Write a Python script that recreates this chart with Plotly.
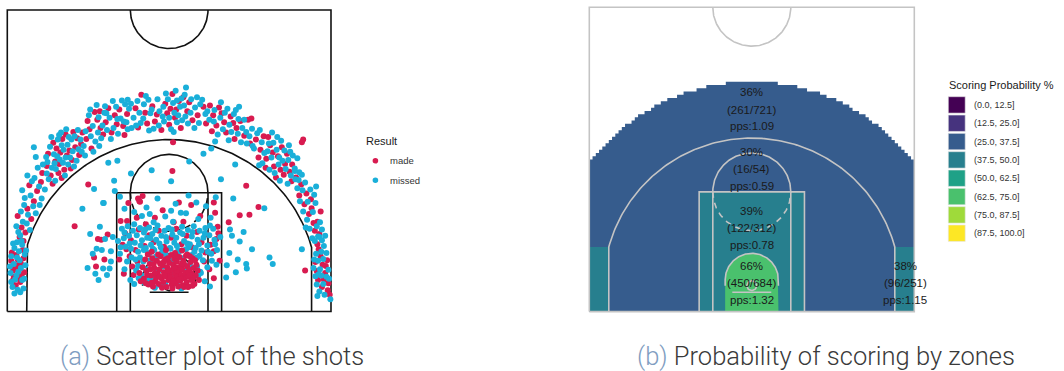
import numpy as np
import plotly.graph_objects as go

# ---------------- shot locations (feet: x across the court, y up from the baseline) ----------------
made_above_break = [
    (-22.8, 13.1), (-21.9, 16.0), (-20.4, 18.8), (-23.1, 11.6), (-21.3, 14.4), (-19.8, 20.2), (-22.2, 12.3),
    (-20.9, 17.2), (-23.4, 14.9), (-19.6, 21.6), (-21.6, 19.7), (-22.5, 11.0),
    (-18.3, 21.2), (-17.6, 23.4), (-16.8, 24.8), (-15.4, 25.1), (-14.2, 27.0), (-17.9, 26.3), (-16.2, 22.1),
    (-15.0, 23.6), (-13.6, 26.1), (-18.7, 24.6), (-17.1, 21.6), (-16.5, 26.9), (-14.8, 28.0), (-18.0, 19.9),
    (-15.8, 24.3), (-13.9, 24.4), (-17.4, 25.4), (-16.0, 27.6), (-14.5, 25.6), (-18.9, 22.7), (-15.2, 22.3),
    (-17.0, 23.0), (-13.4, 27.9), (-16.6, 20.8),
    (-11.5, 31.1), (-10.7, 31.2), (-12.3, 28.4), (-9.8, 29.5), (-8.4, 30.6), (-7.1, 28.9), (-12.8, 26.9),
    (-10.2, 27.6), (-6.5, 30.8), (-11.1, 29.9), (-8.9, 27.9), (-7.7, 31.5), (-12.0, 25.4), (-9.4, 31.7),
    (-6.9, 27.5), (-10.6, 28.6), (-8.1, 29.2), (-12.6, 29.7),
    (0.5, 33.9), (-4.3, 33.8), (0.2, 31.6), (-0.6, 32.4), (0.9, 30.2), (1.5, 32.8), (-1.9, 30.7), (-3.4, 29.3),
    (2.8, 31.2), (3.6, 29.8), (-5.2, 31.7), (-2.6, 32.0), (0.0, 29.1), (1.8, 28.6), (-1.2, 28.3), (4.4, 30.6),
    (5.3, 31.9), (-4.8, 28.7), (2.2, 33.4), (-0.3, 30.9), (1.1, 31.5), (-2.2, 29.6), (3.1, 32.6), (5.7, 29.3),
    (-3.7, 31.0),
    (6.8, 30.6), (8.1, 30.9), (9.5, 30.4), (12.7, 30.1), (12.2, 29.9), (7.3, 29.0), (10.4, 28.6), (11.6, 27.4),
    (8.8, 27.9), (6.3, 32.1), (9.9, 29.4), (12.5, 26.2), (7.7, 31.8), (11.0, 29.7), (10.1, 26.9), (6.6, 28.1),
    (8.5, 29.5),
    (13.4, 26.8), (14.1, 25.2), (15.6, 25.9), (16.8, 24.2), (17.9, 23.0), (18.6, 21.8), (15.0, 23.8),
    (16.2, 22.6), (17.4, 25.6), (18.2, 24.6), (14.6, 27.3), (19.0, 22.9), (20.5, 26.4), (20.7, 26.8),
    (16.5, 20.9), (17.7, 21.3), (13.8, 24.0), (15.3, 27.2), (18.9, 20.3), (14.9, 22.4), (16.0, 24.8), (17.2, 22.1),
    (21.2, 18.4), (22.0, 16.1), (22.9, 14.0), (20.4, 19.8), (21.6, 15.2), (22.5, 12.6), (19.6, 20.9),
    (21.9, 17.5), (23.2, 12.1), (20.9, 16.7), (22.3, 13.8), (20.1, 18.1), (23.4, 15.6),
]
missed_above_break = [
    (-23.3, 12.4), (-22.6, 14.0), (-21.8, 15.1), (-22.9, 15.6), (-21.0, 16.4), (-20.6, 15.3), (-22.3, 17.7),
    (-21.4, 18.1), (-20.1, 19.5), (-19.7, 17.6), (-23.6, 13.3), (-22.0, 13.7), (-20.8, 20.8), (-21.9, 21.2),
    (-20.3, 22.4), (-19.2, 19.0), (-22.7, 18.9), (-23.0, 11.9), (-21.5, 12.7), (-20.0, 16.6), (-22.4, 16.6),
    (-21.2, 20.3), (-19.5, 22.9), (-20.6, 24.1), (-20.9, 25.6),
    (-18.6, 20.6), (-18.1, 22.4), (-17.5, 22.2), (-17.8, 24.5), (-16.9, 23.7), (-16.3, 25.2), (-15.7, 26.0),
    (-15.1, 26.8), (-14.6, 27.3), (-14.0, 25.3), (-13.5, 24.9), (-16.4, 23.2), (-15.6, 22.9), (-17.2, 26.8),
    (-18.4, 25.7), (-18.8, 23.3), (-17.6, 20.4), (-16.1, 21.2), (-15.3, 24.0), (-14.3, 23.5), (-13.7, 26.8),
    (-16.7, 27.9), (-15.9, 28.4), (-18.2, 27.2), (-17.3, 24.2), (-16.0, 24.0), (-14.9, 25.0), (-14.1, 28.3),
    (-13.2, 25.8), (-18.9, 21.5), (-19.0, 24.1), (-17.0, 27.5), (-15.5, 27.2), (-16.6, 25.9), (-14.7, 22.6),
    (-17.7, 23.1),
    (-12.1, 27.3), (-11.4, 26.5), (-11.8, 28.9), (-10.9, 30.3), (-10.3, 29.0), (-9.6, 28.3), (-9.2, 30.2),
    (-8.6, 28.6), (-8.2, 31.9), (-7.5, 30.1), (-7.0, 29.6), (-6.4, 28.4), (-6.8, 32.3), (-9.9, 32.0),
    (-11.2, 32.2), (-12.4, 30.6), (-10.5, 27.0), (-9.0, 26.9), (-7.9, 27.7), (-12.9, 28.1), (-11.7, 24.9),
    (-10.8, 25.8), (-8.7, 32.8), (-6.2, 31.6), (-13.0, 24.3), (-7.3, 32.9), (-9.7, 30.9), (-11.0, 27.9),
    (-8.0, 30.0), (-6.6, 29.5), (-12.2, 31.5), (-10.0, 31.0),
    (2.6, 34.9), (1.9, 33.2), (-6.4, 33.0), (2.4, 33.8), (1.2, 32.9), (0.6, 32.5), (-0.9, 31.9), (-1.5, 31.2),
    (-2.9, 30.9), (-3.9, 32.3), (-4.6, 31.0), (-5.5, 30.2), (-5.9, 32.4), (-4.9, 32.8), (-3.2, 33.0),
    (-1.8, 33.1), (-0.2, 33.1), (0.8, 31.0), (1.7, 31.9), (2.5, 30.4), (3.3, 31.0), (4.0, 31.8), (4.8, 32.3),
    (5.6, 30.8), (4.6, 29.4), (3.9, 28.6), (2.9, 29.3), (2.0, 29.8), (1.2, 29.5), (0.3, 28.4), (-0.8, 29.6),
    (-1.6, 29.0), (-2.4, 28.5), (-3.1, 28.2), (-4.0, 30.1), (-4.4, 29.4), (-5.1, 29.0), (-5.8, 28.6),
    (-2.7, 31.5), (-1.0, 30.4), (0.0, 30.2), (0.7, 28.0), (1.4, 30.6), (2.3, 32.1), (3.4, 33.1), (4.3, 33.4),
    (5.1, 33.0), (-3.6, 33.6), (-0.5, 34.0), (1.0, 34.4),
    (9.0, 31.6), (5.9, 31.2), (7.0, 31.4), (7.9, 30.2), (8.6, 31.0), (9.3, 29.1), (10.0, 30.8), (10.7, 30.0),
    (11.3, 28.6), (11.9, 28.0), (12.4, 27.3), (12.9, 25.8), (10.6, 27.7), (9.6, 28.0), (8.3, 28.4), (7.5, 27.6),
    (6.9, 29.6), (6.2, 29.9), (11.6, 29.9), (10.3, 31.4), (8.0, 32.6), (12.0, 26.2), (9.2, 26.7), (7.1, 26.5),
    (12.8, 28.5), (11.1, 26.4), (10.8, 31.9),
    (13.1, 25.4), (13.6, 27.8), (14.3, 26.4), (14.7, 24.7), (15.2, 25.0), (15.8, 24.0), (16.1, 26.3),
    (16.6, 25.2), (17.0, 24.0), (17.5, 23.5), (18.0, 22.2), (18.4, 23.6), (18.8, 21.2), (19.1, 24.3),
    (19.4, 22.3), (17.8, 25.1), (16.9, 22.9), (16.3, 21.6), (15.5, 22.1), (14.4, 23.1), (13.9, 22.8),
    (15.9, 27.9), (17.3, 26.6), (18.5, 25.9), (19.5, 20.6), (18.3, 19.9), (17.1, 20.4), (14.0, 28.3),
    (16.7, 27.2), (19.8, 23.9), (20.1, 21.7), (15.4, 26.2), (18.7, 24.9),
    (19.4, 21.9), (20.0, 20.5), (20.6, 18.9), (21.0, 20.1), (21.4, 17.1), (21.8, 19.0), (22.2, 15.5),
    (22.6, 16.9), (22.8, 13.3), (23.0, 11.7), (21.3, 14.3), (20.7, 15.6), (20.2, 17.2), (19.8, 19.2),
    (22.4, 18.2), (23.3, 13.9), (21.7, 12.9), (22.1, 11.4), (23.6, 12.8), (20.5, 21.3), (21.1, 13.1), (22.7, 19.5),
]
made_corner = [
    (-23.6, 8.8), (-22.9, 7.5), (-24.1, 6.4), (-23.3, 5.2), (-22.6, 9.6), (-24.4, 7.9), (-23.0, 4.6),
    (-23.8, 6.9), (-22.4, 6.1), (-24.0, 5.4), (-23.4, 8.1), (-22.8, 5.6), (-24.3, 9.2), (-23.1, 6.7),
    (-23.7, 4.1), (-22.5, 8.3), (-24.2, 4.8), (-23.5, 7.2),
    (23.4, 8.6), (24.2, 7.1), (22.8, 6.3), (23.9, 5.0), (24.6, 4.4), (23.1, 9.7), (24.4, 8.0), (22.6, 7.7),
    (23.6, 3.8), (24.8, 2.6), (23.0, 4.9), (24.1, 6.0), (22.9, 10.5), (23.7, 7.3), (24.5, 3.3),
]
missed_corner = [
    (-23.9, 9.9), (-23.2, 9.4), (-22.7, 10.4), (-24.4, 8.6), (-22.3, 8.9), (-23.5, 8.4), (-24.0, 7.4),
    (-22.9, 6.8), (-23.3, 6.2), (-24.5, 6.0), (-22.2, 7.2), (-23.6, 5.6), (-22.7, 4.9), (-24.2, 3.8),
    (-23.4, 3.4), (-23.9, 2.8), (-23.0, 3.0), (-22.5, 3.6), (-24.4, 4.6), (-23.1, 8.0), (-22.4, 5.1),
    (-23.8, 5.0), (-24.1, 10.6), (-22.8, 11.0), (-23.5, 10.8), (-22.1, 9.5), (-24.6, 7.0),
    (22.5, 11.0), (23.2, 11.6), (23.9, 10.2), (22.7, 9.0), (23.5, 9.3), (24.3, 9.1), (22.4, 8.1), (23.0, 7.9),
    (23.8, 8.2), (24.6, 6.5), (23.3, 6.6), (22.6, 5.5), (23.5, 5.6), (24.3, 5.4), (22.8, 4.2), (23.8, 4.3),
    (23.2, 3.1), (24.0, 2.6), (22.9, 2.4), (24.7, 5.1), (23.6, 11.1), (24.1, 11.8), (22.3, 6.8), (24.9, 1.9),
    (23.1, 5.8),
]
made_mid = [
    (-12.5, 19.8), (-10.5, 11.2), (-11.0, 11.3), (-11.6, 8.4), (-11.3, 7.0), (0.5, 21.9), (0.6, 26.4),
    (11.9, 19.6), (10.9, 15.0), (12.4, 15.1), (13.8, 16.3), (21.0, 6.4), (-9.5, 12.0), (-10.0, 8.1),
    (9.2, 13.9), (-14.6, 13.3),
]
missed_mid = [
    (-11.6, 19.1), (-9.4, 23.2), (-8.0, 23.5), (-8.5, 20.4), (-8.4, 18.8), (-10.1, 16.9), (-10.7, 13.2),
    (-9.9, 11.3), (-11.2, 9.8), (-10.2, 6.7), (-9.2, 6.7), (-9.6, 5.7), (-11.8, 9.0), (-2.7, 22.0),
    (0.3, 20.3), (3.1, 23.4), (8.0, 20.6), (10.2, 22.9), (6.5, 25.4), (14.7, 16.1), (9.4, 12.8), (9.7, 11.8),
    (10.9, 10.9), (10.6, 8.1), (11.9, 7.4), (12.0, 6.7), (15.5, 8.4), (16.0, 7.4), (20.5, 9.7), (-10.2, 16.9),
    (-13.4, 16.0), (-5.9, 21.5), (5.3, 24.6), (-9.0, 9.4), (-10.9, 4.9), (8.8, 5.3), (-12.2, 12.1), (9.9, 17.6),
    (-11.4, 5.9), (-10.4, 9.6), (-9.0, 7.8), (-12.6, 6.8), (-8.7, 11.6), (9.3, 9.1), (10.3, 6.1), (12.8, 9.7),
    (8.9, 7.2), (11.5, 12.4),
]
made_paint = [
    (-4.6, 17.2), (-4.1, 18.0), (-6.3, 16.9), (-7.5, 14.1), (-6.5, 14.1), (1.5, 17.0), (6.9, 17.0), (7.1, 15.4),
    (7.5, 13.2), (7.6, 12.2), (7.3, 11.3), (-5.5, 5.7), (-7.2, 10.4), (-6.8, 12.2), (-5.9, 11.1), (-5.2, 9.6),
    (-4.7, 12.8), (-3.8, 10.2), (-3.1, 11.9), (-2.4, 10.8), (-1.6, 12.6), (-0.8, 10.1), (0.3, 11.5),
    (1.1, 12.9), (1.9, 10.5), (2.7, 11.8), (3.5, 10.0), (4.3, 12.4), (5.0, 10.8), (5.8, 12.0), (6.4, 10.4),
    (6.9, 9.4), (-6.1, 8.6), (-4.9, 7.8), (-5.7, 7.0), (5.4, 7.8), (6.2, 6.6), (-6.6, 9.7), (2.2, 14.0),
    (-2.2, 14.6), (4.8, 14.9), (-1.0, 15.8), (3.4, 16.6), (-7.7, 8.1), (7.8, 7.9), (-3.6, 13.6), (0.7, 13.9),
    (-7.0, 5.9), (6.9, 5.2), (5.6, 9.2), (-5.0, 14.6), (-4.8, 17.6), (-4.5, 17.1),
]
missed_paint = [
    (-3.5, 16.2), (-3.0, 15.2), (0.3, 15.7), (2.6, 15.3), (4.2, 17.0), (5.7, 16.4), (1.8, 15.4), (0.6, 14.0),
    (-7.6, 17.9), (-5.4, 15.5), (-1.8, 17.6), (3.0, 18.1), (6.4, 14.6), (-6.9, 16.0), (1.0, 16.8),
    (-0.6, 14.8), (4.5, 14.4), (-2.4, 13.9), (7.2, 17.8), (-4.2, 14.9),
    (-7.3, 12.9), (-7.0, 11.4), (-6.7, 10.1), (-6.4, 13.3), (-6.2, 11.8), (-5.9, 9.8), (-5.6, 12.6),
    (-5.3, 10.7), (-5.0, 11.9), (-4.8, 9.3), (-4.5, 13.0), (-4.2, 11.1), (-3.9, 12.3), (-3.6, 9.9),
    (-3.4, 11.5), (-3.1, 13.1), (-2.8, 10.4), (-2.6, 12.1), (-2.3, 9.6), (-2.0, 11.2), (-1.8, 13.4),
    (-1.5, 10.6), (-1.2, 11.8), (-1.0, 9.4), (-0.7, 12.6), (-0.4, 10.9), (-0.1, 13.0), (0.2, 9.8), (0.5, 12.0),
    (0.8, 10.7), (1.1, 11.5), (1.4, 9.5), (1.7, 12.3), (2.0, 13.2), (2.3, 11.0), (2.6, 9.7), (2.9, 12.7),
    (3.2, 10.5), (3.5, 11.7), (3.8, 13.3), (4.1, 9.9), (4.4, 11.2), (4.7, 12.6), (5.0, 9.5), (5.3, 11.5),
    (5.6, 13.0), (5.9, 10.3), (6.2, 11.9), (6.5, 9.0), (6.8, 12.9), (7.1, 10.5), (7.4, 9.6), (-6.5, 7.8),
    (-5.8, 8.4), (-5.1, 6.4), (-4.7, 5.2), (-6.9, 6.6), (-7.6, 9.0), (5.2, 8.0), (5.9, 6.9), (6.6, 7.9),
    (7.3, 7.3), (4.9, 6.0), (-5.4, 4.3), (5.5, 4.7), (-7.9, 11.0), (7.9, 11.6), (-6.0, 4.9), (6.3, 3.9),
    (-6.9, 12.3), (-6.1, 10.6), (-5.4, 13.6), (-4.4, 10.3), (-3.7, 12.8), (-2.9, 11.4), (-2.1, 12.7),
    (-1.3, 10.0), (-0.5, 11.6), (0.4, 12.8), (1.2, 10.2), (2.1, 12.1), (2.8, 10.6), (3.6, 12.4), (4.6, 10.5),
    (5.5, 12.2), (6.3, 13.4), (7.0, 11.2), (-7.5, 10.0), (6.0, 9.3), (-5.2, 8.1), (4.3, 8.4), (-3.1, 9.0),
]
made_restricted = [
    (-3.9, 5.1), (-3.5, 6.3), (-3.2, 4.2), (-3.0, 7.4), (-2.8, 5.6), (-2.6, 8.3), (-2.5, 3.9), (-2.3, 6.8),
    (-2.1, 4.8), (-1.9, 7.9), (-1.8, 5.9), (-1.6, 4.3), (-1.5, 6.6), (-1.3, 8.6), (-1.2, 5.2), (-1.0, 7.2),
    (-0.9, 4.6), (-0.8, 6.1), (-0.6, 8.1), (-0.5, 5.5), (-0.4, 3.8), (-0.3, 6.9), (-0.1, 4.9), (0.0, 7.6),
    (0.1, 6.0), (0.2, 5.3), (0.3, 8.8), (0.4, 4.2), (0.5, 6.5), (0.6, 7.3), (0.7, 5.0), (0.8, 8.2), (0.9, 5.8),
    (1.0, 4.4), (1.1, 6.9), (1.2, 7.8), (1.3, 5.4), (1.4, 3.9), (1.5, 6.2), (1.6, 8.5), (1.7, 4.8), (1.8, 7.1),
    (1.9, 5.7), (2.0, 6.6), (2.1, 4.1), (2.2, 7.9), (2.3, 5.2), (2.5, 6.0), (2.6, 8.7), (2.7, 4.6), (2.8, 7.0),
    (2.9, 5.5), (3.0, 3.9), (3.1, 6.5), (3.3, 7.7), (3.4, 4.9), (3.5, 5.9), (3.6, 8.3), (3.8, 6.8), (3.9, 4.3),
    (4.1, 5.6), (4.2, 7.3), (-4.1, 6.9), (-3.7, 8.1), (-3.4, 5.7), (-2.9, 6.6), (-2.4, 7.4), (-2.0, 5.3),
    (-1.4, 7.5), (-0.7, 5.6), (-0.2, 8.3), (0.6, 4.7), (1.2, 6.4), (1.8, 5.1), (2.4, 7.3), (3.0, 6.1),
    (3.7, 5.2), (-3.3, 8.9), (-1.7, 8.9), (0.9, 9.1), (2.8, 8.9), (4.4, 6.4), (-4.4, 4.7), (-2.7, 4.5),
    (-1.1, 3.7), (0.5, 3.6), (2.3, 3.8), (3.6, 4.0), (-0.2, 6.4), (0.8, 6.8), (1.5, 5.0), (-1.5, 5.5),
    (-2.2, 6.0), (2.0, 7.5), (-0.8, 7.8), (3.2, 8.6), (-3.6, 4.4), (4.0, 8.0), (1.1, 8.7), (-2.7, 9.3),
    (2.0, 9.5), (-0.5, 9.6), (4.6, 4.9), (-4.6, 6.0), (3.2, 5.7), (-2.5, 4.4), (2.9, 3.8),
]
missed_restricted = [
    (-4.3, 5.7), (-4.0, 7.8), (-3.8, 4.5), (-3.6, 6.6), (-3.3, 9.1), (-3.1, 5.0), (-2.9, 8.0), (-2.4, 5.1),
    (-2.0, 8.6), (-1.7, 6.3), (-1.3, 4.0), (-0.9, 7.0), (-0.5, 8.9), (-0.2, 5.9), (0.2, 7.9), (0.6, 5.6),
    (1.0, 8.0), (1.3, 4.7), (1.7, 6.7), (2.1, 8.3), (2.4, 5.6), (2.8, 6.4), (3.2, 7.3), (3.5, 8.8), (3.9, 5.5),
    (4.3, 7.0), (4.5, 5.6), (-4.5, 8.4), (-1.1, 9.2), (1.5, 9.3), (3.9, 9.3), (-2.2, 3.7), (2.6, 4.0),
    (-0.6, 4.3), (0.4, 6.2), (-3.9, 9.6), (4.7, 8.7), (-2.5, 9.8), (0.1, 9.9), (3.0, 10.0), (-4.8, 7.1),
    (4.8, 6.2), (1.9, 3.6),
]

# ---------------- zone summary ----------------
zone_keys = ["above_break", "mid_range", "paint", "restricted", "corner"]
zone_made = [261, 16, 122, 450, 96]
zone_attempts = [721, 54, 312, 684, 251]
zone_pps = [1.09, 0.59, 0.78, 1.32, 1.15]

bin_edges = [0.0, 12.5, 25.0, 37.5, 50.0, 62.5, 75.0, 87.5, 100.0]
bin_labels = ["(0.0, 12.5]", "(12.5, 25.0]", "(25.0, 37.5]", "(37.5, 50.0]",
              "(50.0, 62.5]", "(62.5, 75.0]", "(75.0, 87.5]", "(87.5, 100.0]"]
bin_colors = ["#440154", "#46337E", "#365C8D", "#277F8E", "#1FA187", "#4AC16D", "#9FDA3A", "#FDE725"]

MADE_COLOR = "#D81B50"
MISSED_COLOR = "#1AAFD9"

# ---------------- court geometry (feet) ----------------
W, L = 25.0, 47.0
HOOP_Y, HOOP_R = 4.0, 0.75
R3, CORNER_X = 22.8, 22.0
BREAK_Y = HOOP_Y + np.sqrt(R3 ** 2 - CORNER_X ** 2)
KEY_HW, KEY_H, INNER_HW = 8.1, 18.5, 6.0
CIRCLE_R = 6.0
RA_R, RA_Y = 4.1, 4.9
BB_Y, BB_HW = 3.0, 3.0
OUTER_R, OUTER_CY, CELL = 31.2, 4.3, 0.5

FIG_W, FIG_H = 1064, 371


def arc(cx, cy, r, t0, t1, n=140):
    t = np.linspace(t0, t1, n)
    return cx + r * np.cos(t), cy + r * np.sin(t)


def three_point_path():
    t0 = np.arccos(CORNER_X / R3)
    ax, ay = arc(0, HOOP_Y, R3, np.pi - t0, t0)
    xs = np.concatenate([[-CORNER_X, -CORNER_X], ax, [CORNER_X, CORNER_X]])
    ys = np.concatenate([[0, BREAK_Y], ay, [BREAK_Y, 0]])
    return xs, ys


def court_paths():
    paths = []
    paths.append(([-W, W, W, -W, -W], [0, 0, L, L, 0], None))
    paths.append((*arc(0, L, CIRCLE_R, np.pi, 2 * np.pi), None))
    paths.append(([-KEY_HW, -KEY_HW, KEY_HW, KEY_HW], [0, KEY_H, KEY_H, 0], None))
    paths.append(([-INNER_HW, -INNER_HW], [0, KEY_H], None))
    paths.append(([INNER_HW, INNER_HW], [0, KEY_H], None))
    paths.append((*arc(0, KEY_H, CIRCLE_R, 0, np.pi), None))
    paths.append((*arc(0, KEY_H, CIRCLE_R, np.pi, 2 * np.pi), "6px,5px"))
    paths.append((*three_point_path(), None))
    rx, ry = arc(0, RA_Y, RA_R, 0, np.pi)
    paths.append((np.concatenate([[RA_R], rx, [-RA_R]]), np.concatenate([[HOOP_Y], ry, [HOOP_Y]]), None))
    paths.append(([-BB_HW, BB_HW], [BB_Y, BB_Y], None))
    paths.append((*arc(0, HOOP_Y, HOOP_R, 0, 2 * np.pi, 40), None))
    return paths


def court_traces(color, width, xa, ya):
    out = []
    for xs, ys, dash in court_paths():
        out.append(go.Scatter(x=list(xs), y=list(ys), mode="lines", xaxis=xa, yaxis=ya,
                              line=dict(color=color, width=width, dash=dash or "solid"),
                              hoverinfo="skip", showlegend=False))
    return out


def points(trace_pts, color, xa, ya, name):
    xs = [p[0] for p in trace_pts]
    ys = [p[1] for p in trace_pts]
    return go.Scatter(x=xs, y=ys, mode="markers", xaxis=xa, yaxis=ya, name=name,
                      marker=dict(color=color, size=6, line=dict(width=0)),
                      hoverinfo="skip", showlegend=False)


def zone_color(pct):
    for i in range(len(bin_colors)):
        if pct <= bin_edges[i + 1]:
            return bin_colors[i]
    return bin_colors[-1]


def filled(xs, ys, color):
    return go.Scatter(x=list(xs), y=list(ys), mode="lines", fill="toself", fillcolor=color,
                      line=dict(width=0, color=color), xaxis="x2", yaxis="y2",
                      hoverinfo="skip", showlegend=False)


fig = go.Figure()

# ---------------- (a) shot scatter ----------------
for t in court_traces("#111111", 1.6, "x", "y"):
    fig.add_trace(t)

other_made = made_above_break + made_corner + made_mid + made_paint
other_missed = missed_above_break + missed_corner + missed_mid + missed_paint
fig.add_trace(points(other_made, MADE_COLOR, "x", "y", "made"))
fig.add_trace(points(missed_restricted, MISSED_COLOR, "x", "y", "missed"))
fig.add_trace(points(other_missed, MISSED_COLOR, "x", "y", "missed"))
fig.add_trace(points(made_restricted, MADE_COLOR, "x", "y", "made"))

# ---------------- (b) zone map ----------------
pct = {k: 100.0 * m / a for k, m, a in zip(zone_keys, zone_made, zone_attempts)}
stats = {k: (m, a, p) for k, m, a, p in zip(zone_keys, zone_made, zone_attempts, zone_pps)}

# outer limit of the above-the-break zone, rasterised on the shot grid
ox, oy = [-W], [0.0]
for x0 in np.arange(-W, W, CELL):
    xc = x0 + CELL / 2
    h = OUTER_CY + np.sqrt(max(OUTER_R ** 2 - xc ** 2, 0.0))
    top = min((np.floor(h / CELL - 0.5) + 1) * CELL, L)
    ox += [x0, x0 + CELL]
    oy += [top, top]
ox += [W]
oy += [0.0]
fig.add_trace(filled(ox, oy, zone_color(pct["above_break"])))

tx, ty = three_point_path()
fig.add_trace(filled(tx, ty, zone_color(pct["mid_range"])))
fig.add_trace(filled([-W, -W, -CORNER_X, -CORNER_X], [0, BREAK_Y, BREAK_Y, 0], zone_color(pct["corner"])))
fig.add_trace(filled([CORNER_X, CORNER_X, W, W], [0, BREAK_Y, BREAK_Y, 0], zone_color(pct["corner"])))
fig.add_trace(filled([-KEY_HW, -KEY_HW, KEY_HW, KEY_HW], [0, KEY_H, KEY_H, 0], zone_color(pct["paint"])))
gx, gy = arc(0, RA_Y, RA_R, 0, np.pi)
fig.add_trace(filled(np.concatenate([[RA_R], gx, [-RA_R, -RA_R]]),
                     np.concatenate([[0], gy, [RA_Y, 0]]), zone_color(pct["restricted"])))

for t in court_traces("#C4C4C4", 1.6, "x2", "y2"):
    fig.add_trace(t)

label_pos = {"above_break": (0.0, 31.2), "mid_range": (0.0, 22.0), "paint": (0.0, 12.9),
             "restricted": (0.0, 4.4), "corner": (23.6, 4.4)}
annotations = []
for k in zone_keys:
    m, a, p = stats[k]
    x0, y0 = label_pos[k]
    lines = [f"{round(pct[k]):.0f}%", f"({m}/{a})", f"pps:{p:.2f}"]
    for txt, shift in zip(lines, [17.5, 0, -16.7]):
        annotations.append(dict(x=x0, y=y0, xref="x2", yref="y2", text=txt, showarrow=False,
                                xanchor="center", yanchor="middle", yshift=shift,
                                font=dict(family="Liberation Sans, Arial", size=11.5, color="#1a1a1a")))


def px(xp):
    return xp / FIG_W


def py(yp):
    return 1 - yp / FIG_H


shapes = []
# result legend
annotations.append(dict(x=px(364), y=py(141), xref="paper", yref="paper", text="Result", showarrow=False,
                        xanchor="left", yanchor="middle",
                        font=dict(family="Liberation Sans, Arial", size=11, color="#1a1a1a")))
for i, (lab, col) in enumerate([("made", MADE_COLOR), ("missed", MISSED_COLOR)]):
    cy = 160.7 + i * 19.5
    shapes.append(dict(type="circle", xref="paper", yref="paper", x0=px(372.6), x1=px(378.2),
                       y0=py(cy + 2.8), y1=py(cy - 2.8), fillcolor=col, line=dict(width=0)))
    annotations.append(dict(x=px(388), y=py(cy), xref="paper", yref="paper", text=lab, showarrow=False,
                            xanchor="left", yanchor="middle",
                            font=dict(family="Liberation Sans, Arial", size=9.5, color="#333333")))

# probability legend
annotations.append(dict(x=px(947), y=py(84.5), xref="paper", yref="paper", text="Scoring Probability %",
                        showarrow=False, xanchor="left", yanchor="middle",
                        font=dict(family="Liberation Sans, Arial", size=11, color="#1a1a1a")))
for i, (lab, col) in enumerate(zip(bin_labels, bin_colors)):
    top = 96.7 + i * 18.33
    shapes.append(dict(type="rect", xref="paper", yref="paper", x0=px(948.3), x1=px(965.2),
                       y0=py(top + 16.4), y1=py(top), fillcolor=col, line=dict(width=0.6, color="#E6E6E6")))
    annotations.append(dict(x=px(971.5), y=py(top + 8.2), xref="paper", yref="paper", text=lab,
                            showarrow=False, xanchor="left", yanchor="middle",
                            font=dict(family="Liberation Sans, Arial", size=9, color="#333333")))

# sub-captions
cap_font = dict(family="Roboto", size=25.5, color="#3a3a3a", weight=300)
annotations.append(dict(x=px(212), y=py(356), xref="paper", yref="paper", showarrow=False,
                        xanchor="center", yanchor="middle",
                        text='<span style="color:#7f9dc1">(a)</span> Scatter plot of the shots', font=cap_font))
annotations.append(dict(x=px(826), y=py(356), xref="paper", yref="paper", showarrow=False,
                        xanchor="center", yanchor="middle",
                        text='<span style="color:#7f9dc1">(b)</span> Probability of scoring by zones',
                        font=cap_font))

XR, YR = (-25.6, 25.6), (-0.6, 47.6)


def domains(x_left, x_right, y_base, y_top):
    bx = (x_right - x_left) / (2 * W)
    cx = (x_left + x_right) / 2
    dy = (y_base - y_top) / L
    xd = [(cx + bx * XR[0]) / FIG_W, (cx + bx * XR[1]) / FIG_W]
    yd = [1 - (y_base - dy * YR[0]) / FIG_H, 1 - (y_base - dy * YR[1]) / FIG_H]
    return xd, yd


xd1, yd1 = domains(7.3, 331.0, 311.5, 10.0)
xd2, yd2 = domains(589.3, 914.3, 311.6, 7.3)
ax_common = dict(visible=False, showgrid=False, zeroline=False, fixedrange=True)

fig.update_layout(
    width=FIG_W, height=FIG_H, margin=dict(l=0, r=0, t=0, b=0),
    paper_bgcolor="white", plot_bgcolor="rgba(0,0,0,0)", showlegend=False,
    xaxis=dict(domain=xd1, range=list(XR), anchor="y", **ax_common),
    yaxis=dict(domain=yd1, range=list(YR), anchor="x", **ax_common),
    xaxis2=dict(domain=xd2, range=list(XR), anchor="y2", **ax_common),
    yaxis2=dict(domain=yd2, range=list(YR), anchor="x2", **ax_common),
    annotations=annotations, shapes=shapes,
)

fig.write_html("out.html")
